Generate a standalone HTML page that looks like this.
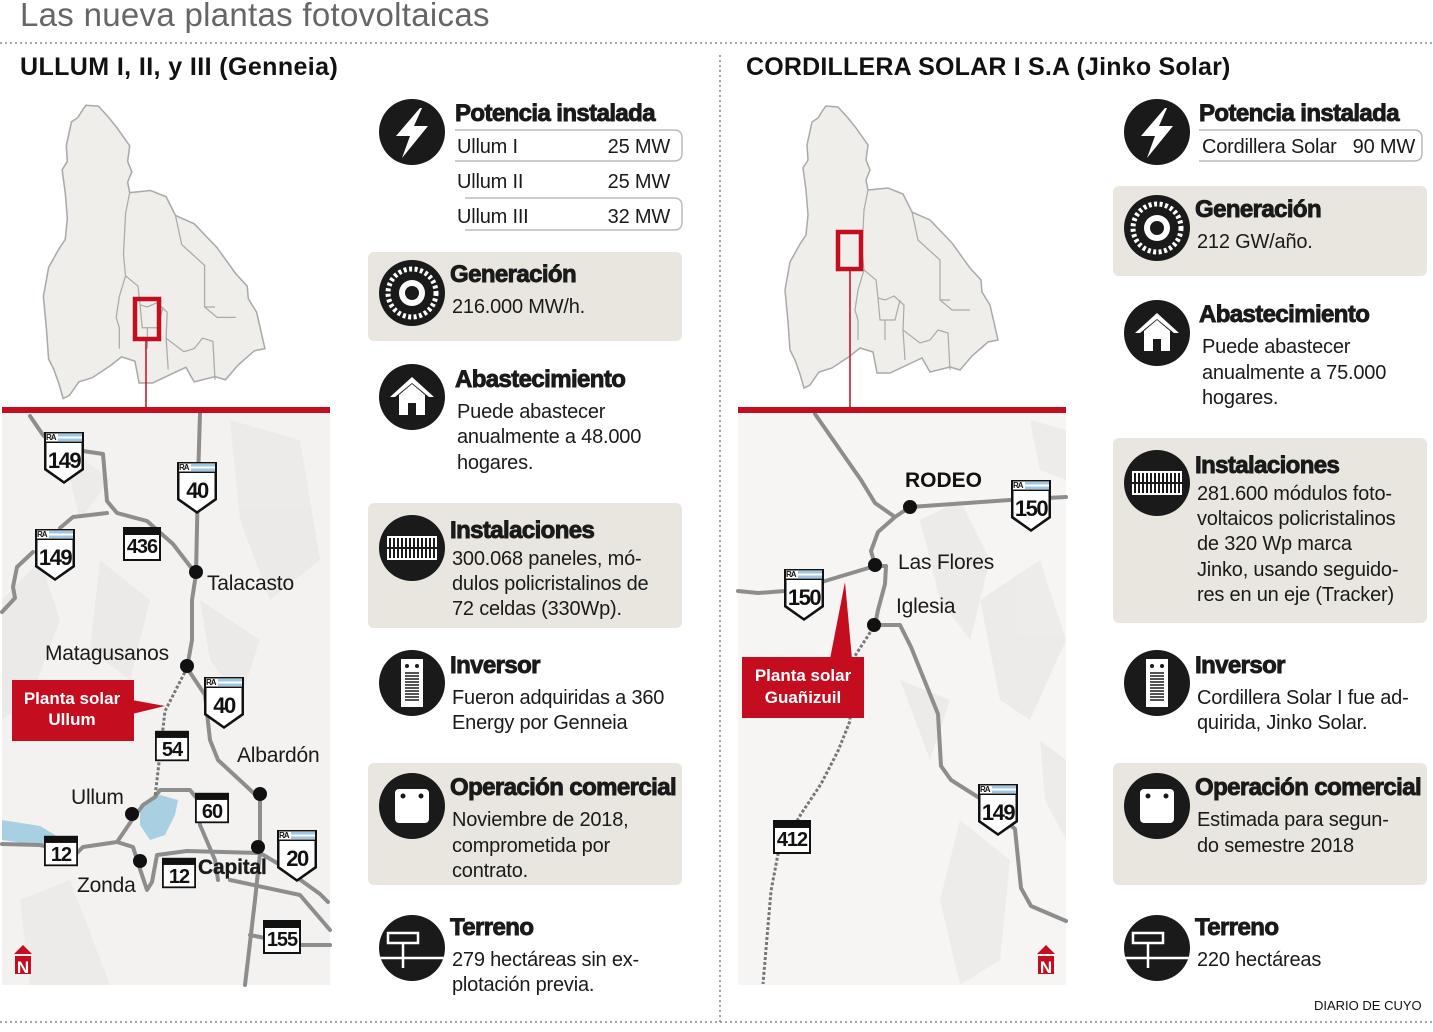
<!DOCTYPE html>
<html><head><meta charset="utf-8"><style>
html,body{margin:0;padding:0;background:#fff}
svg{display:block}
.t{font-family:"Liberation Sans",sans-serif}
.h{font-family:"Liberation Sans",sans-serif;font-weight:bold;font-size:24px;fill:#1a1a1a;stroke:#1a1a1a;stroke-width:0.9;letter-spacing:-0.6px}
.b{font-family:"Liberation Sans",sans-serif;font-size:20px;fill:#1a1a1a;letter-spacing:-0.2px}
.m{font-family:"Liberation Sans",sans-serif;font-size:21px;fill:#1a1a1a;letter-spacing:-0.2px}
.sn{font-family:"Liberation Sans",sans-serif;font-weight:bold;font-size:22px;fill:#111;letter-spacing:-1.5px;text-anchor:middle}
.rn{font-family:"Liberation Sans",sans-serif;font-weight:bold;font-size:20px;fill:#111;letter-spacing:-1px;text-anchor:middle}
.ra{font-family:"Liberation Sans",sans-serif;font-weight:bold;font-size:8px;fill:#111;letter-spacing:-1px}
</style></head><body>
<svg width="1433" height="1032" viewBox="0 0 1433 1032" xmlns="http://www.w3.org/2000/svg">
<defs>
<symbol id="shield" viewBox="0 0 40 52" width="40" height="52">
<path d="M0,0H40V38L20,52L0,38Z" fill="#111"/>
<path d="M2.5,11H37.5V36.5L20,49L2.5,36.5Z" fill="#fff"/>
<rect x="2" y="1.5" width="36" height="8" fill="#fff"/>
<rect x="14" y="2" width="24" height="2.5" fill="#9cc7e6"/>
<rect x="14" y="6.5" width="24" height="2.5" fill="#9cc7e6"/>
</symbol>
<symbol id="ruta" viewBox="0 0 38 34" width="38" height="34">
<rect x="1" y="1" width="36" height="32" fill="#fff" stroke="#111" stroke-width="2"/>
<rect x="1" y="1" width="36" height="7" fill="#111"/>
</symbol>
<path id="prov" d="M826,106L838,107L848,118L856,128L868,145L866,160L870,170L866,180L868,190L888,188L903,194L912,212L930,220L952,243L970,268L981,280L982,292L990,305L998,340L988,342L972,356L960,370L950,367L930,372L922,358L890,373L877,373L873,352L860,348L850,356L832,368L819,372L810,385L804,388L800,374L795,360L790,350L788,322L785,290L790,262L800,244L806,235L808,215L806,190L803,168L808,160L807,145L812,122L818,118L823,110Z"/>
</defs>

<text x="20" y="26" class="t" font-size="33" fill="#666" letter-spacing="0.3">Las nueva plantas fotovoltaicas</text>
<line x1="0" y1="43" x2="1433" y2="43" stroke="#888" stroke-width="1.5" stroke-dasharray="2,3"/>
<line x1="720" y1="55" x2="720" y2="1025" stroke="#888" stroke-width="1.5" stroke-dasharray="2,3"/>
<line x1="0" y1="1022" x2="1433" y2="1022" stroke="#888" stroke-width="1.5" stroke-dasharray="2,3"/>
<text x="20" y="75" class="t" font-size="25" font-weight="bold" fill="#111" letter-spacing="0.4">ULLUM I, II, y III (Genneia)</text>
<text x="746" y="75" class="t" font-size="25" font-weight="bold" fill="#111" letter-spacing="0.2">CORDILLERA SOLAR I S.A (Jinko Solar)</text>

<g fill="#efeeea" stroke="#aaa" stroke-width="1.5">
<use href="#prov" transform="translate(-773,-5) scale(1.04)"/>
<use href="#prov"/>
</g>
<g fill="none" stroke="#aaa" stroke-width="1.2">
<path d="M868,190L864,210L862,250L864,270L876,280L878,298L885,300L894,296L904,305L903,330L920,343L930,340L938,330L948,333L950,370M864,270L858,290L855,310L858,320L858,340M878,298L880,320L895,320L900,300M885,320L885,340M903,330L905,360M912,212L918,240L940,260L940,300L952,310L970,310M940,300L950,300"/>
<g transform="translate(-773,-5) scale(1.04)">
<path d="M868,190L864,210L862,250L864,270L876,280L878,298L885,300L894,296L904,305L903,330L920,343L930,340L938,330L948,333L950,370M864,270L858,290L855,310L858,320L858,340M878,298L880,320L895,320L900,300M885,320L885,340M903,330L905,360M912,212L918,240L940,260L940,300L952,310L970,310M940,300L950,300"/>
</g>
</g>
<rect x="135" y="299" width="24" height="40" fill="none" stroke="#c40d1e" stroke-width="4.5"/>
<line x1="146" y1="341" x2="146" y2="410" stroke="#c40d1e" stroke-width="1.5"/>
<rect x="838" y="232" width="23" height="37" fill="none" stroke="#c40d1e" stroke-width="4.5"/>
<line x1="850" y1="271" x2="850" y2="410" stroke="#c40d1e" stroke-width="1.5"/>

<!-- LEFT MAP -->
<rect x="2" y="412" width="328" height="573" fill="#f3f2f0"/>
<g fill="#e9e8e6" opacity="0.7">
<path d="M2,600L40,560L60,620L30,700L2,720Z"/><path d="M100,560L150,600L130,680L90,650Z"/><path d="M230,420L300,440L320,560L270,600L240,520Z"/><path d="M20,900L70,880L110,985L30,985Z"/><path d="M200,600L260,640L240,700L210,660Z"/><path d="M60,440L110,480L80,520Z"/>
</g>
<path d="M2,820L40,826L60,838L45,846L2,840Z" fill="#a9cfe3"/>
<path d="M140,805L160,795L178,800L175,815L165,835L150,840L140,825Z" fill="#a9cfe3"/>
<g fill="none" stroke="#8d8d8d" stroke-width="4" stroke-linejoin="round" stroke-linecap="round">
<path d="M200,413L198,480L196,574L192,600L192,640L187,668L205,695L210,740L218,760L245,785L260,799L260,853L255,900L245,985"/>
<path d="M30,416L43,435L60,450L83,451L103,454L107,501L117,513L147,521L173,544L196,574"/>
<path d="M107,513L73,517L60,528M33,552L17,567L13,587L15,598L2,612"/>
<path d="M155,797L143,805L132,820L117,842L83,847L77,853L40,845L2,844"/>
<path d="M117,842L133,847L140,869L147,890L152,882L157,855L187,851L260,853L277,863L320,894L328,902"/>
<path d="M155,797L160,790L190,790L198,800L200,825L215,860L218,880"/>
<path d="M230,880L300,895L330,930M250,935L300,945L330,945"/>
</g>
<path d="M187,668L165,711L155,797" fill="none" stroke="#777" stroke-width="3" stroke-dasharray="3,2"/>
<g fill="#111">
<circle cx="196" cy="572" r="7"/><circle cx="187" cy="666" r="7"/><circle cx="260" cy="794" r="7"/><circle cx="132" cy="814" r="7"/><circle cx="140" cy="861" r="7"/><circle cx="258" cy="847" r="7"/>
</g>
<text x="207" y="590" class="m">Talacasto</text>
<text x="45" y="660" class="m">Matagusanos</text>
<text x="237" y="762" class="m">Albardón</text>
<text x="71" y="804" class="m">Ullum</text>
<text x="77" y="892" class="m">Zonda</text>
<text x="198" y="874" class="m" font-weight="bold" stroke="#111" stroke-width="0.3">Capital</text>
<path d="M12,680H134V741H12Z" fill="#c40d1e"/>
<path d="M132,700L165,706L132,714Z" fill="#c40d1e"/>
<text x="72" y="704" class="t" font-size="17" font-weight="bold" fill="#fff" text-anchor="middle">Planta solar</text>
<text x="72" y="725" class="t" font-size="17" font-weight="bold" fill="#fff" text-anchor="middle">Ullum</text>

<use href="#shield" x="44" y="432"/><text x="46" y="440" class="ra">RA</text><text x="64" y="468" class="sn">149</text>
<use href="#shield" x="177" y="462"/><text x="179" y="470" class="ra">RA</text><text x="197" y="498" class="sn">40</text>
<use href="#shield" x="35" y="529"/><text x="37" y="537" class="ra">RA</text><text x="55" y="565" class="sn">149</text>
<use href="#ruta" x="123" y="527"/><text x="142" y="553" class="rn">436</text>
<use href="#shield" x="204" y="677"/><text x="206" y="685" class="ra">RA</text><text x="224" y="713" class="sn">40</text>
<use href="#ruta" x="155" y="730" width="34" height="32"/><text x="172" y="756" class="rn">54</text>
<use href="#ruta" x="195" y="792" width="34" height="32"/><text x="212" y="818" class="rn">60</text>
<use href="#ruta" x="44" y="835" width="34" height="32"/><text x="61" y="861" class="rn">12</text>
<use href="#ruta" x="162" y="857" width="34" height="32"/><text x="179" y="883" class="rn">12</text>
<use href="#shield" x="277" y="830"/><text x="279" y="838" class="ra">RA</text><text x="297" y="866" class="sn">20</text>
<use href="#ruta" x="263" y="920"/><text x="282" y="946" class="rn">155</text>
<g transform="translate(14,945)"><path d="M0,9L9,0L18,9Z" fill="#c40d1e"/><rect x="1" y="11" width="16" height="18" fill="#c40d1e"/><text x="9" y="28" class="t" font-size="17" font-weight="bold" fill="#fff" text-anchor="middle">N</text></g>
<rect x="2" y="407" width="328" height="6" fill="#c40d1e"/>

<!-- RIGHT MAP -->
<rect x="738" y="412" width="328" height="573" fill="#f6f5f3"/>
<g fill="#e9e8e6" opacity="0.7">
<path d="M920,520L960,500L990,560L970,640L940,600Z"/><path d="M980,600L1040,560L1066,640L1030,720L1000,700Z"/><path d="M960,820L1010,860L1000,960L960,985L940,900Z"/><path d="M1030,420L1066,430L1066,480L1040,470Z"/><path d="M900,680L950,700L930,760Z"/><path d="M1040,740L1066,760L1066,840L1045,800Z"/>
</g>
<g fill="none" stroke="#8d8d8d" stroke-width="4" stroke-linejoin="round" stroke-linecap="round">
<path d="M815,414L838,447L861,480L875,503L895,517L910,507L1010,500L1066,497"/>
<path d="M895,517L878,532L871,551L875,565"/>
<path d="M738,591L758,593L785,591L825,581L875,566L886,566L885,584L878,610L875,625L900,625L911,647L938,714L941,766L951,780L981,799L1015,829L1021,888L1031,906L1066,921"/>
</g>
<path d="M873,628L851,662L850,721L838,751L821,784L801,814L778,854L771,891L763,984" fill="none" stroke="#777" stroke-width="3" stroke-dasharray="3,2"/>
<g fill="#111"><circle cx="910" cy="507" r="7"/><circle cx="875" cy="565" r="7"/><circle cx="874" cy="625" r="7"/></g>
<text x="905" y="487" class="t" font-size="21" font-weight="bold" fill="#111">RODEO</text>
<text x="898" y="569" class="m">Las Flores</text>
<text x="896" y="613" class="m">Iglesia</text>
<path d="M742,657H864V718H742Z" fill="#c40d1e"/>
<path d="M830,659L852,659L845,582Z" fill="#c40d1e"/>
<text x="803" y="681" class="t" font-size="17" font-weight="bold" fill="#fff" text-anchor="middle">Planta solar</text>
<text x="803" y="703" class="t" font-size="17" font-weight="bold" fill="#fff" text-anchor="middle">Guañizuil</text>
<use href="#shield" x="1011" y="480"/><text x="1013" y="488" class="ra">RA</text><text x="1031" y="516" class="sn">150</text>
<use href="#shield" x="784" y="569"/><text x="786" y="577" class="ra">RA</text><text x="804" y="605" class="sn">150</text>
<use href="#shield" x="978" y="784"/><text x="980" y="792" class="ra">RA</text><text x="998" y="820" class="sn">149</text>
<use href="#ruta" x="773" y="820"/><text x="792" y="846" class="rn">412</text>
<g transform="translate(1037,945)"><path d="M0,9L9,0L18,9Z" fill="#c40d1e"/><rect x="1" y="11" width="16" height="18" fill="#c40d1e"/><text x="9" y="28" class="t" font-size="17" font-weight="bold" fill="#fff" text-anchor="middle">N</text></g>
<rect x="738" y="407" width="328" height="6" fill="#c40d1e"/>

<g fill="#e8e6df">
<rect x="368" y="252" width="314" height="89" rx="6"/>
<rect x="368" y="503" width="314" height="125" rx="6"/>
<rect x="368" y="763" width="314" height="122" rx="6"/>
<rect x="1113" y="186" width="314" height="90" rx="6"/>
<rect x="1113" y="438" width="314" height="185" rx="6"/>
<rect x="1113" y="763" width="314" height="122" rx="6"/>
</g>

<defs>
<g id="i-bolt"><circle r="33" fill="#1a1a1a"/><path d="M8,-24L-16,4L-2,4L-10,26L16,-6L2,-6L10,-24Z" fill="#fff"/></g>
<g id="i-gear"><circle r="33" fill="#1a1a1a"/><circle r="24" fill="none" stroke="#fff" stroke-width="5" stroke-dasharray="3,2.5"/><circle r="19" fill="#1a1a1a"/><circle r="13" fill="#fff"/><circle r="7" fill="#1a1a1a"/></g>
<g id="i-house"><circle r="33" fill="#1a1a1a"/><path d="M-22,0L0,-20L22,0L17,0L0,-14L-17,0Z" fill="#fff"/><path d="M-13,-2L0,-13L13,-2V18H4V6H-4V18H-13Z" fill="#fff"/></g>
<g id="i-panel"><circle r="33" fill="#1a1a1a"/><rect x="-25" y="-12" width="50" height="24" fill="#fff"/><path d="M-22,-10V10M-18,-10V10M-14,-10V10M-10,-10V10M-6,-10V10M-2,-10V10M2,-10V10M6,-10V10M10,-10V10M14,-10V10M18,-10V10M22,-10V10" stroke="#1a1a1a" stroke-width="2"/><rect x="-25" y="-1" width="50" height="2" fill="#1a1a1a"/></g>
<g id="i-inv"><circle r="33" fill="#1a1a1a"/><rect x="-11" y="-24" width="22" height="48" fill="#fff"/><circle cx="-5" cy="-17" r="2" fill="#1a1a1a"/><circle cx="5" cy="-17" r="2" fill="#1a1a1a"/><path d="M-7,-10H7M-7,-7H7M-7,-4H7M-7,-1H7M-7,2H7M-7,5H7M-7,8H7M-7,11H7M-7,14H7M-7,17H7" stroke="#1a1a1a" stroke-width="1.5"/></g>
<g id="i-op"><circle r="33" fill="#1a1a1a"/><rect x="-17" y="-17" width="34" height="34" rx="4" fill="#fff"/><circle cx="-9" cy="-10" r="2.5" fill="#1a1a1a"/><circle cx="9" cy="-10" r="2.5" fill="#1a1a1a"/></g>
<g id="i-ter"><circle r="33" fill="#1a1a1a"/><rect x="-24" y="-15" width="30" height="10" fill="none" stroke="#fff" stroke-width="2.5"/><path d="M-9,-5V20M-33,10H33" stroke="#fff" stroke-width="2.5"/></g>
</defs>

<use href="#i-bolt" x="412" y="132"/>
<text x="455" y="121" class="h">Potencia instalada</text>
<path d="M455,130H674Q682,130 682,138V153Q682,161 674,161H455" fill="none" stroke="#bbb" stroke-width="1.5"/>
<path d="M465,198H674Q682,198 682,206V222Q682,230 674,230H465" fill="none" stroke="#bbb" stroke-width="1.5"/>
<text x="457" y="153" class="b">Ullum I</text><text x="670" y="153" class="b" text-anchor="end">25 MW</text>
<text x="457" y="188" class="b">Ullum II</text><text x="670" y="188" class="b" text-anchor="end">25 MW</text>
<text x="457" y="223" class="b">Ullum III</text><text x="670" y="223" class="b" text-anchor="end">32 MW</text>

<use href="#i-gear" x="412" y="293"/>
<text x="450" y="282" class="h">Generación</text>
<text x="452" y="313" class="b">216.000 MW/h.</text>

<use href="#i-house" x="412" y="397"/>
<text x="455" y="387" class="h">Abastecimiento</text>
<text x="457" y="418" class="b">Puede abastecer</text>
<text x="457" y="443" class="b">anualmente a 48.000</text>
<text x="457" y="469" class="b">hogares.</text>

<use href="#i-panel" x="412" y="548"/>
<text x="450" y="538" class="h">Instalaciones</text>
<text x="452" y="565" class="b">300.068 paneles, mó-</text>
<text x="452" y="590" class="b">dulos policristalinos de</text>
<text x="452" y="615" class="b">72 celdas (330Wp).</text>

<use href="#i-inv" x="412" y="683"/>
<text x="450" y="673" class="h">Inversor</text>
<text x="452" y="704" class="b">Fueron adquiridas a 360</text>
<text x="452" y="729" class="b">Energy por Genneia</text>

<use href="#i-op" x="412" y="806"/>
<text x="450" y="795" class="h">Operación comercial</text>
<text x="452" y="826" class="b">Noviembre de 2018,</text>
<text x="452" y="852" class="b">comprometida por</text>
<text x="452" y="877" class="b">contrato.</text>

<use href="#i-ter" x="412" y="948"/>
<text x="450" y="935" class="h">Terreno</text>
<text x="452" y="966" class="b">279 hectáreas sin ex-</text>
<text x="452" y="991" class="b">plotación previa.</text>

<use href="#i-bolt" x="1157" y="132"/>
<text x="1199" y="121" class="h">Potencia instalada</text>
<path d="M1199,130H1414Q1422,130 1422,138V153Q1422,161 1414,161H1199" fill="none" stroke="#bbb" stroke-width="1.5"/>
<text x="1202" y="153" class="b">Cordillera Solar</text><text x="1415" y="153" class="b" text-anchor="end">90 MW</text>

<use href="#i-gear" x="1157" y="228"/>
<text x="1195" y="217" class="h">Generación</text>
<text x="1197" y="248" class="b">212 GW/año.</text>

<use href="#i-house" x="1157" y="333"/>
<text x="1199" y="322" class="h">Abastecimiento</text>
<text x="1202" y="353" class="b">Puede abastecer</text>
<text x="1202" y="379" class="b">anualmente a 75.000</text>
<text x="1202" y="404" class="b">hogares.</text>

<use href="#i-panel" x="1157" y="483"/>
<text x="1195" y="473" class="h">Instalaciones</text>
<text x="1197" y="500" class="b">281.600 módulos foto-</text>
<text x="1197" y="525" class="b">voltaicos policristalinos</text>
<text x="1197" y="550" class="b">de 320 Wp marca</text>
<text x="1197" y="576" class="b">Jinko, usando seguido-</text>
<text x="1197" y="601" class="b">res en un eje (Tracker)</text>

<use href="#i-inv" x="1157" y="683"/>
<text x="1195" y="673" class="h">Inversor</text>
<text x="1197" y="704" class="b">Cordillera Solar I fue ad-</text>
<text x="1197" y="729" class="b">quirida,  Jinko Solar.</text>

<use href="#i-op" x="1157" y="806"/>
<text x="1195" y="795" class="h">Operación comercial</text>
<text x="1197" y="826" class="b">Estimada para segun-</text>
<text x="1197" y="852" class="b">do semestre 2018</text>

<use href="#i-ter" x="1157" y="948"/>
<text x="1195" y="935" class="h">Terreno</text>
<text x="1197" y="966" class="b">220 hectáreas</text>

<text x="1314" y="1010" class="t" font-size="13" fill="#111">DIARIO DE CUYO</text>
</svg>
</body></html>
